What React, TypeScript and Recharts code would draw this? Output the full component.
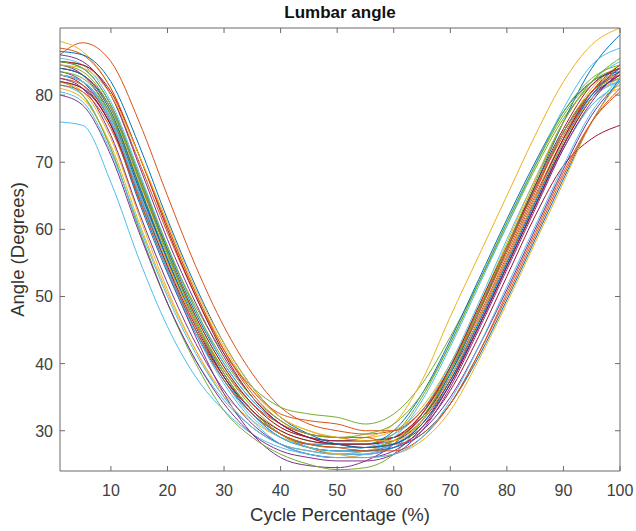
import React from 'react';
import { LineChart, Line, XAxis, YAxis } from 'recharts';

const xs = [1, 5, 10, 15, 20, 25, 30, 35, 40, 45, 50, 55, 60, 65, 70, 75, 80, 85, 90, 95, 100];
const xTicks = [10, 20, 30, 40, 50, 60, 70, 80, 90, 100];
const yTicks = [30, 40, 50, 60, 70, 80];

const c01 = [82, 81, 75.5, 64, 53.5, 44.5, 37.5, 32.5, 29.5, 28, 27.5, 27.5, 28.5, 32, 38.5, 46.5, 55.5, 64.5, 73.5, 80, 82.5];
const c02 = [86, 87.8, 85, 76, 65, 54.5, 45.5, 38.5, 33.5, 31, 30, 29.5, 30, 33, 39, 47, 56, 65, 73.5, 80, 83.5];
const c03 = [88, 86.5, 81, 71, 60.5, 50.5, 42.5, 36, 32, 30, 29, 29, 30, 33.5, 40, 48, 57, 66, 74.5, 81, 84.5];
const c04 = [84.5, 83, 77, 66, 55.5, 46, 38.5, 33, 29.5, 27.5, 26.5, 26.5, 27.5, 30, 35, 42.5, 51, 60, 69, 77, 82];
const c05 = [83, 82, 77, 67, 57, 48.5, 41.5, 36.5, 33.5, 32.5, 32, 31, 32.5, 37, 44, 52, 60.5, 69, 76.5, 81.5, 84];
const c06 = [81.5, 80, 72, 60, 49, 40.5, 34.5, 30.5, 28, 27, 26.5, 26.5, 27.5, 31.5, 38, 46, 55, 64, 73, 79.5, 82];
const c07 = [83, 81.5, 75.5, 64.5, 54, 45, 38, 33, 29.5, 27.5, 27, 27, 28, 30.5, 36, 44, 53, 62, 69.5, 73.5, 75.5];
const c08 = [76, 75.5, 67, 55.5, 45.5, 38, 33, 29.5, 27.5, 26.5, 26, 26.5, 28, 32.5, 39.5, 48, 57, 66, 74.5, 80, 82];
const c09 = [85, 84, 78.5, 68, 57, 47.5, 40, 34.5, 31, 29, 28.5, 28.5, 29, 32, 38.5, 47.5, 57, 66.5, 76, 84, 89];
const c10 = [84, 83, 77.5, 67, 56.5, 47, 39.5, 34, 30.5, 29, 28.5, 29, 31, 37.5, 47, 56, 65, 74, 82, 87.5, 90];
const c11 = [82.5, 81.5, 76, 65.5, 55, 46, 39, 34, 31, 29.5, 29, 28.5, 29, 32.5, 39, 47.5, 56.5, 65.5, 74.5, 80.5, 83];
const c12 = [81, 79.5, 72.5, 61, 50.5, 42, 35.5, 31.5, 29, 28, 27.5, 27.5, 28.5, 31.5, 37.5, 45.5, 54.5, 63.5, 72, 78.5, 81];
const c13 = [83.5, 82, 76, 65, 54, 44, 35.5, 29.5, 26, 24.8, 24.5, 25.5, 28, 32.5, 39.5, 48, 57, 66, 74.5, 80.5, 83.5];
const c14 = [82, 80, 72, 60, 49, 40, 33, 29, 26.5, 25, 24.2, 24.5, 26.5, 31.5, 39, 48, 57, 66, 74.5, 80.5, 82.5];
const c15 = [85.5, 84.5, 79, 68.5, 57.5, 48, 40, 34.5, 31, 29, 28.5, 28.5, 29.5, 33, 40, 49, 58.5, 67.5, 76, 82, 85];
const c16 = [84, 83, 78, 67.5, 56.5, 47, 39.5, 34, 30.5, 29, 28.5, 28.5, 29, 32, 38, 46.5, 55.5, 64.5, 73.5, 80.5, 84.5];
const c17 = [83, 82, 76.5, 66, 55.5, 46, 38.5, 33, 29.5, 28, 28, 28, 30, 35.5, 43.5, 52.5, 61.5, 70, 77.5, 82, 83.5];
const c18 = [85, 84.5, 80, 70, 59.5, 50, 42, 36, 32.5, 31.5, 31, 30, 30, 33, 39.5, 48, 57, 66, 74, 80.5, 84];
const c19 = [82, 80.5, 73.5, 62, 51, 42, 35, 30.5, 28, 27, 26.5, 27, 28.5, 32.5, 39.5, 48.5, 58, 67.5, 76, 81.5, 83];
const c20 = [86, 85, 80, 69.5, 58.5, 49, 41, 35, 31, 29, 28, 28, 28.5, 31.5, 37.5, 45.5, 54.5, 63.5, 72.5, 79.5, 83];
const c21 = [83.5, 82.5, 77, 66.5, 56, 46.5, 39, 33.5, 30, 28.5, 28, 28, 29.5, 35, 43, 52, 61, 69.5, 77, 82, 84];
const c22 = [80.5, 79, 71.5, 60.5, 50, 41.5, 35, 30.5, 28, 27, 26.5, 27, 28, 31, 37, 45.5, 54.5, 63.5, 72, 78.5, 81.5];
const c23 = [85, 84.5, 80.5, 71, 60, 50, 41.5, 35, 31, 29, 28, 28, 29, 32.5, 39.5, 48.5, 57.5, 66.5, 75, 81.5, 84];
const c24 = [84, 83, 77.5, 66.5, 55.5, 46, 38, 32.5, 29, 27.5, 27, 27, 27.5, 29.5, 34, 41, 49.5, 58.5, 67.5, 76, 82.5];
const c25 = [87, 86, 81, 71, 60.5, 50.5, 42, 35.5, 31.5, 29.5, 29, 29, 28, 29.5, 34, 41.5, 50.5, 59.5, 68.5, 76, 80.5];
const c26 = [83, 82, 76.5, 65.5, 55, 46, 38.5, 33, 29.5, 27.5, 26.5, 26, 26.5, 28.5, 33, 40.5, 49, 58, 67, 76, 82];
const c27 = [82.5, 81, 74, 62.5, 52, 43, 36, 31, 28, 26.5, 26, 26, 27, 30.5, 37, 45.5, 54.5, 63.5, 72.5, 79.5, 83];
const c28 = [84.5, 83.5, 78, 67.5, 56.5, 46.5, 38.5, 33, 29.5, 28, 27.5, 27.5, 28.5, 32, 39, 48, 57.5, 67, 76, 82, 85.5];
const c29 = [83, 82, 76.5, 65.5, 54.5, 45, 37.5, 32, 29, 27.5, 27, 27.5, 29, 34.5, 42.5, 51.5, 60.5, 69.5, 78, 84.5, 87];
const c30 = [82, 81, 75.5, 65, 54.5, 45.5, 38, 33, 30, 28.5, 28, 27.5, 28, 31, 37, 45.5, 54.5, 63.5, 72.5, 79.5, 83];
const c31 = [86.5, 86, 82, 72.5, 61.5, 51.5, 43, 36.5, 32, 29.5, 28, 27.5, 28, 31, 37.5, 46, 55, 64, 73, 80, 84];
const c32 = [81.5, 80.5, 75, 64.5, 54, 45, 37.5, 32.5, 29.5, 28, 27.5, 27, 27, 29, 34, 41.5, 50, 59, 68, 76, 81];
const c33 = [84.5, 84, 80, 71, 61, 51, 43, 36.5, 32, 30, 29, 28.5, 28.5, 31.5, 38, 46.5, 55.5, 64.5, 73, 79.5, 82.5];
const c34 = [80, 78.5, 71, 59.5, 49, 40.5, 34, 29.5, 27, 26, 25.5, 25.5, 26.5, 30, 36.5, 45, 54, 63, 72, 79, 83.5];
const c35 = [85, 84, 78.5, 68, 57.5, 48, 40.5, 35, 31.5, 29.5, 29, 29.5, 31, 35.5, 43, 52, 61, 69.5, 77.5, 82.5, 84.5];
const c36 = [83, 82, 76, 65, 54, 44.5, 37, 31.5, 28, 26.5, 26, 26, 26.5, 29, 34.5, 42.5, 51.5, 60.5, 69.5, 77.5, 82.5];

const series = [c01, c02, c03, c04, c05, c06, c07, c08, c09, c10, c11, c12, c13, c14, c15, c16, c17, c18,
  c19, c20, c21, c22, c23, c24, c25, c26, c27, c28, c29, c30, c31, c32, c33, c34, c35, c36];

const BLUE = '#0072BD', ORANGE = '#D95319', YELLOW = '#EDB120', PURPLE = '#7E2F8E',
  GREEN = '#77AC30', LBLUE = '#4DBEEE', DRED = '#A2142F';
const seriesColors = [BLUE, ORANGE, YELLOW, PURPLE, GREEN, LBLUE, DRED, LBLUE, BLUE, YELLOW, ORANGE, YELLOW,
  PURPLE, GREEN, LBLUE, DRED, BLUE, ORANGE, YELLOW, PURPLE, GREEN, LBLUE, DRED, BLUE, ORANGE, YELLOW, PURPLE,
  GREEN, LBLUE, DRED, BLUE, ORANGE, YELLOW, PURPLE, GREEN, LBLUE];

const data = xs.map((x, i) => {
  const row: Record<string, number> = { x };
  series.forEach((s, k) => { row['s' + k] = s[i]; });
  return row;
});

const FONT = '"Liberation Sans", Arial, Helvetica, sans-serif';
const AXIS = '#6a6a6a';
const TXT = '#404040';
const TL = 5;

const BottomTick = (p: any) => (
  <g>
    <line x1={p.x} y1={p.y} x2={p.x} y2={p.y - TL} stroke={AXIS} strokeWidth={1} />
    <text x={p.x} y={p.y + 25} textAnchor="middle" fontSize={16} fill={TXT} fontFamily={FONT}>{p.payload.value}</text>
  </g>
);
const TopTick = (p: any) => (
  <line x1={p.x} y1={p.y} x2={p.x} y2={p.y + TL} stroke={AXIS} strokeWidth={1} />
);
const LeftTick = (p: any) => (
  <g>
    <line x1={p.x} y1={p.y} x2={p.x + TL} y2={p.y} stroke={AXIS} strokeWidth={1} />
    <text x={p.x - 7} y={p.y + 6} textAnchor="end" fontSize={16} fill={TXT} fontFamily={FONT}>{p.payload.value}</text>
  </g>
);
const RightTick = (p: any) => (
  <line x1={p.x} y1={p.y} x2={p.x - TL} y2={p.y} stroke={AXIS} strokeWidth={1} />
);

export default function App() {
  return (
    <div style={{ position: 'absolute', left: 0, top: 0, width: 636, height: 531, background: '#fff' }}>
      <LineChart width={636} height={531} data={data} margin={{ top: 27, right: 15, bottom: 0, left: 0 }}>
        <XAxis
          dataKey="x" type="number" domain={[1, 100]} ticks={xTicks} allowDataOverflow
          height={60} tickSize={0} tickMargin={0} tickLine={false} tick={BottomTick}
          axisLine={{ stroke: AXIS }} interval={0}
          label={{
            content: (lp: any) => {
              const vb = lp.viewBox;
              return (
                <text x={vb.x + vb.width / 2} y={vb.y + 50} textAnchor="middle" fontSize={18.5} fill="#333" fontFamily={FONT}>
                  Cycle Percentage (%)
                </text>
              );
            },
          }}
        />
        <XAxis
          xAxisId="top" orientation="top" dataKey="x" type="number" domain={[1, 100]} ticks={xTicks} allowDataOverflow
          height={1} tickSize={0} tickMargin={0} tickLine={false} tick={TopTick} axisLine={{ stroke: AXIS }} interval={0}
          label={{
            content: (lp: any) => {
              const vb = lp.viewBox;
              return (
                <text x={vb.x + vb.width / 2} y={18} textAnchor="middle" fontSize={17} fontWeight="bold" fill="#111" fontFamily={FONT}>
                  Lumbar angle
                </text>
              );
            },
          }}
        />
        <YAxis
          type="number" domain={[24, 90]} ticks={yTicks} allowDataOverflow width={60}
          tickSize={0} tickMargin={0} tickLine={false} tick={LeftTick} axisLine={{ stroke: AXIS }} interval={0}
          label={{
            content: (lp: any) => {
              const vb = lp.viewBox;
              const cx = 24;
              const cy = vb.y + vb.height / 2;
              return (
                <text x={cx} y={cy} transform={`rotate(-90 ${cx} ${cy})`} textAnchor="middle" fontSize={18.5} fill="#333" fontFamily={FONT}>
                  Angle (Degrees)
                </text>
              );
            },
          }}
        />
        <YAxis
          yAxisId="right" orientation="right" type="number" domain={[24, 90]} ticks={yTicks} allowDataOverflow
          width={1} tickSize={0} tickMargin={0} tickLine={false} tick={RightTick} axisLine={{ stroke: AXIS }} interval={0}
        />
        {series.map((_, k) => (
          <Line
            key={k}
            dataKey={'s' + k}
            type="monotone"
            stroke={seriesColors[k]}
            strokeWidth={1}
            dot={false}
            activeDot={false}
            isAnimationActive={false}
          />
        ))}
      </LineChart>
    </div>
  );
}
